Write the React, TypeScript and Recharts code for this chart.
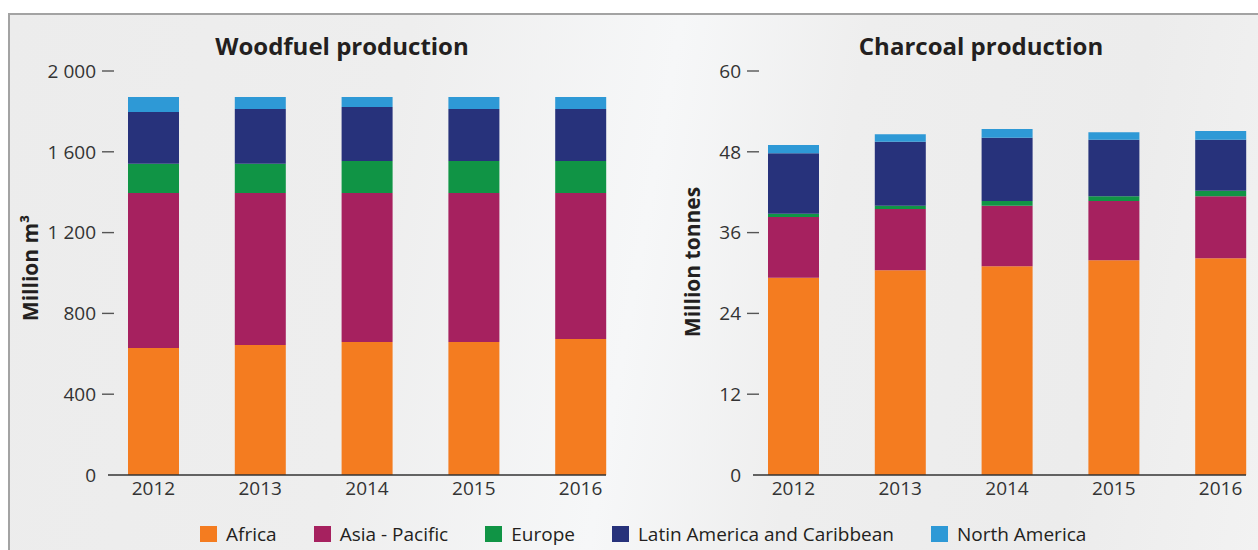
import React from "react";
import { BarChart, Bar, XAxis, YAxis } from "recharts";

const years = ["2012", "2013", "2014", "2015", "2016"];

// Woodfuel, million m3
const woodAfrica = [629, 644, 658, 658, 673];
const woodAsia = [767, 752, 738, 738, 723];
const woodEurope = [145, 145, 158, 158, 158];
const woodLatin = [256, 271, 268, 258, 258];
const woodNorth = [74, 59, 49, 59, 59];
const woodTicks = [0, 400, 800, 1200, 1600, 2000];

// Charcoal, million tonnes
const charAfrica = [29.3, 30.4, 31.0, 31.9, 32.2];
const charAsia = [9.0, 9.1, 9.0, 8.8, 9.2];
const charEurope = [0.5, 0.5, 0.7, 0.7, 0.8];
const charLatin = [9.0, 9.5, 9.4, 8.4, 7.6];
const charNorth = [1.2, 1.1, 1.3, 1.1, 1.3];
const charTicks = [0, 12, 24, 36, 48, 60];

const regions = [
  { key: "africa", name: "Africa", color: "#f47c20" },
  { key: "asia", name: "Asia - Pacific", color: "#a6215f" },
  { key: "europe", name: "Europe", color: "#109445" },
  { key: "latin", name: "Latin America and Caribbean", color: "#27327b" },
  { key: "north", name: "North America", color: "#2e99d6" },
];

const woodData = years.map((year, i) => ({
  year,
  africa: woodAfrica[i],
  asia: woodAsia[i],
  europe: woodEurope[i],
  latin: woodLatin[i],
  north: woodNorth[i],
}));

const charData = years.map((year, i) => ({
  year,
  africa: charAfrica[i],
  asia: charAsia[i],
  europe: charEurope[i],
  latin: charLatin[i],
  north: charNorth[i],
}));

const FONT = "'Open Sans', sans-serif";
const TEXT = "#231f20";

const fmtThousands = (v: number) => String(v).replace(/\B(?=(\d{3})+(?!\d))/g, " ");

function YTick(props: any) {
  const { x, y, payload, fmt } = props;
  return (
    <g>
      <text x={x - 12} y={y} dy="0.36em" textAnchor="end" fontSize={19} fontFamily={FONT} fill="#333">
        {fmt ? fmt(payload.value) : payload.value}
      </text>
      {payload.value !== 0 && <line x1={x - 6} x2={x + 6} y1={y} y2={y} stroke="#555" strokeWidth={1.4} />}
    </g>
  );
}

function AxisTitle(props: any) {
  const { viewBox, value, dx, dy } = props;
  const cx = viewBox.x + dx;
  const cy = viewBox.y + viewBox.height / 2 + dy;
  return (
    <text
      x={cx}
      y={cy}
      transform={`rotate(-90 ${cx} ${cy})`}
      textAnchor="middle"
      dy="0.36em"
      fontSize={21}
      fontWeight={700}
      fontFamily={FONT}
      fill={TEXT}
    >
      {value}
    </text>
  );
}

function Stack({ data, ticks, max, fmt, title, dx, dy, width, yWidth, right, pad }: any) {
  return (
    <BarChart
      width={width}
      height={500}
      data={data}
      margin={{ top: 71, right, bottom: 0, left: 0 }}
    >
      <XAxis
        dataKey="year"
        padding={pad}
        axisLine={{ stroke: "#333", strokeWidth: 1.5 }}
        tickLine={false}
        tickSize={0}
        tickMargin={7}
        height={25}
        tick={{ fontSize: 19, fontFamily: FONT, fill: "#333" }}
      />
      <YAxis
        domain={[0, max]}
        ticks={ticks}
        width={yWidth}
        axisLine={false}
        tickLine={false}
        tickSize={0}
        tickMargin={0}
        tick={<YTick fmt={fmt} />}
        label={<AxisTitle value={title} dx={dx} dy={dy} />}
      />
      {regions.map((r) => (
        <Bar key={r.key} dataKey={r.key} stackId="s" fill={r.color} barSize={51} isAnimationActive={false} />
      ))}
    </BarChart>
  );
}

export default function App() {
  return (
    <div style={{ position: "relative", width: 1258, height: 550, overflow: "hidden", background: "#fff", fontFamily: FONT }}>
      <style>{"body{margin:0}"}</style>
      <div
        style={{
          position: "absolute",
          left: 8,
          top: 13,
          width: 1250,
          height: 537,
          borderTop: "2px solid #a3a3a3",
          borderLeft: "2px solid #a3a3a3",
          background:
            "linear-gradient(100deg, #ececec 0%, #eeeeee 30%, #f6f7f8 50%, #eeeeee 64%, #ececec 85%, #f2f2f2 100%)",
        }}
      />
      <div style={{ position: "absolute", left: 0, top: 0 }}>
        <Stack
          data={woodData}
          ticks={woodTicks}
          max={2000}
          fmt={fmtThousands}
          title="Million m³"
          dx={30}
          dy={-5}
          width={640}
          yWidth={108}
          right={34}
          pad={{ left: -8, right: -28 }}
        />
      </div>
      <div style={{ position: "absolute", left: 640, top: 0 }}>
        <Stack
          data={charData}
          ticks={charTicks}
          max={60}
          title="Million tonnes"
          dx={52}
          dy={-11}
          width={618}
          yWidth={113}
          right={12}
          pad={{ left: -13, right: -28 }}
        />
      </div>
      <div style={{ position: "absolute", left: 0, width: 684, top: 29, textAlign: "center", fontSize: 24, fontWeight: 700, color: TEXT }}>
        Woodfuel production
      </div>
      <div style={{ position: "absolute", left: 700, width: 562, top: 29, textAlign: "center", fontSize: 24, fontWeight: 700, color: TEXT }}>
        Charcoal production
      </div>
      <div style={{ position: "absolute", left: 200, top: 521, display: "flex", alignItems: "center", fontSize: 19, color: TEXT }}>
        {regions.map((r) => (
          <div key={r.key} style={{ display: "flex", alignItems: "center", marginRight: 37 }}>
            <span style={{ width: 17, height: 16, background: r.color, display: "inline-block", marginRight: 9 }} />
            <span>{r.name}</span>
          </div>
        ))}
      </div>
    </div>
  );
}
